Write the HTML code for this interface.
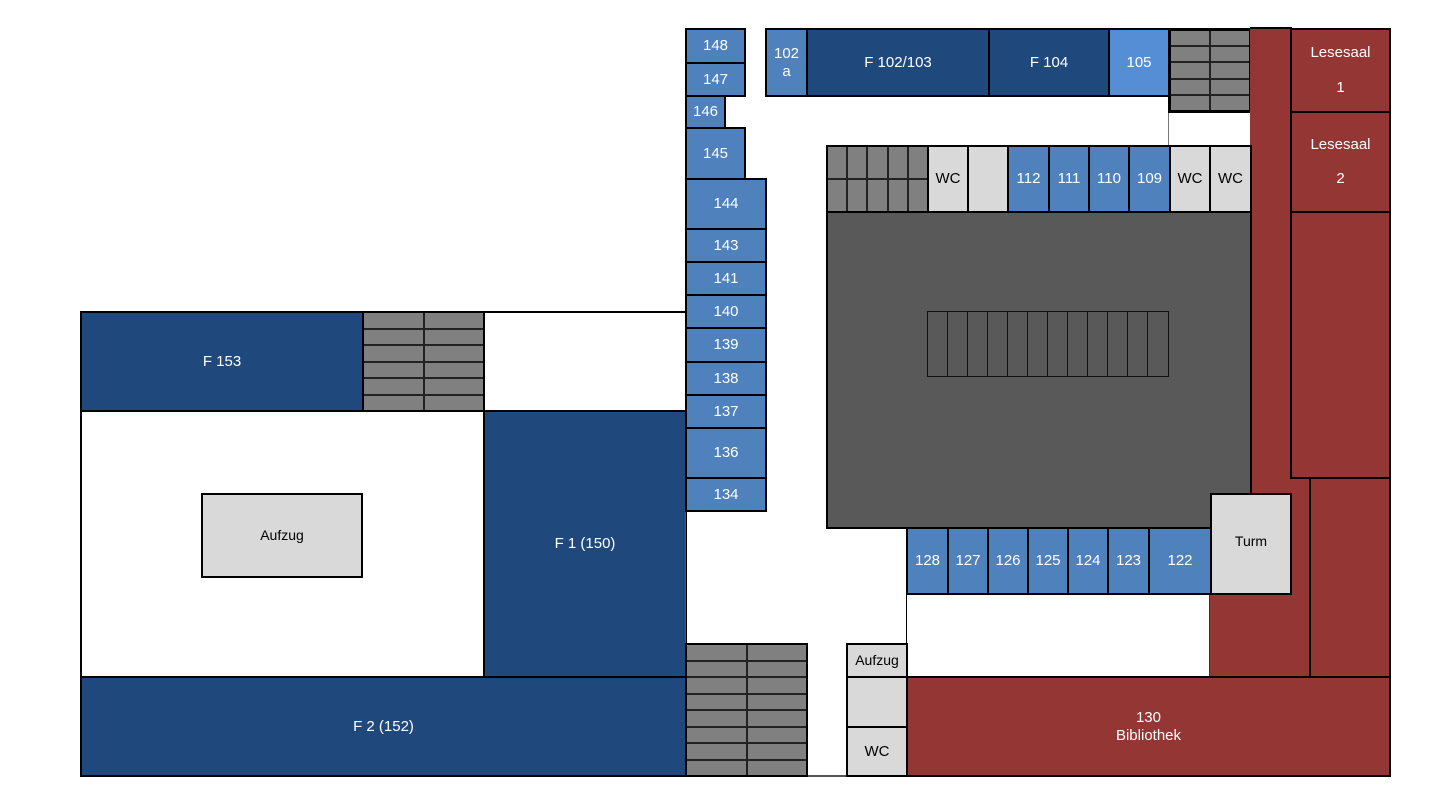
<!DOCTYPE html>
<html><head><meta charset="utf-8"><style>
html,body{margin:0;padding:0;background:#fff;}
body{width:1450px;height:810px;position:relative;overflow:hidden;font-family:"Liberation Sans",Arial,sans-serif;}
.b{position:absolute;box-sizing:border-box;border:2px solid #000;display:flex;align-items:center;justify-content:center;text-align:center;font-size:15px;color:#fff;line-height:1.2;}
.db{background:#1f497d;}
.mb{background:#4f81bd;}
.lb{background:#558ed5;}
.rd{background:#943634;}
.lg{background:#d9d9d9;color:#000;}
.dg{background:#595959;}
.b.st{background:#222;display:grid;gap:2px;padding:0;align-items:stretch;justify-content:stretch;justify-items:stretch;align-content:stretch;}
.st div{background:#808080;}
.n{position:absolute;}
</style></head><body>

<!-- left wing -->
<div class="b" style="left:80px;top:410px;width:405px;height:268px;background:#fff"></div>
<div class="b" style="left:483px;top:311px;width:204px;height:101px;background:#fff"></div>
<div class="b db" style="left:80px;top:311px;width:284px;height:101px">F 153</div>
<div class="b st" style="left:362px;top:311px;width:123px;height:101px;grid-template-columns:1fr 1fr;grid-template-rows:repeat(6,1fr)"><div></div><div></div><div></div><div></div><div></div><div></div><div></div><div></div><div></div><div></div><div></div><div></div></div>
<div class="b lg" style="left:201px;top:493px;width:162px;height:85px;font-size:14px">Aufzug</div>
<div class="b db" style="left:483px;top:410px;width:204px;height:268px">F 1 (150)</div>
<div class="b db" style="left:80px;top:676px;width:607px;height:101px">F 2 (152)</div>

<!-- corridor outline lines -->
<div class="n" style="left:685px;top:28px;width:1px;height:748px;background:#555"></div>
<div class="n" style="left:806px;top:775px;width:42px;height:2px;background:#555"></div>
<div class="n" style="left:1168px;top:111px;width:1px;height:35px;background:#777"></div>
<div class="n" style="left:906px;top:593px;width:1px;height:84px;background:#000"></div>

<!-- left column rooms -->
<div class="b mb" style="left:685px;top:28px;width:61px;height:36px">148</div>
<div class="b mb" style="left:685px;top:62px;width:61px;height:35px">147</div>
<div class="b mb" style="left:685px;top:95px;width:41px;height:34px">146</div>
<div class="b mb" style="left:685px;top:127px;width:61px;height:53px">145</div>
<div class="b mb" style="left:685px;top:178px;width:82px;height:52px">144</div>
<div class="b mb" style="left:685px;top:228px;width:82px;height:35px">143</div>
<div class="b mb" style="left:685px;top:261px;width:82px;height:35px">141</div>
<div class="b mb" style="left:685px;top:294px;width:82px;height:35px">140</div>
<div class="b mb" style="left:685px;top:327px;width:82px;height:36px">139</div>
<div class="b mb" style="left:685px;top:361px;width:82px;height:35px">138</div>
<div class="b mb" style="left:685px;top:394px;width:82px;height:35px">137</div>
<div class="b mb" style="left:685px;top:427px;width:82px;height:52px">136</div>
<div class="b mb" style="left:685px;top:477px;width:82px;height:35px">134</div>

<!-- top row -->
<div class="b mb" style="left:765px;top:28px;width:43px;height:69px">102<br>a</div>
<div class="b db" style="left:806px;top:28px;width:184px;height:69px">F 102/103</div>
<div class="b db" style="left:988px;top:28px;width:122px;height:69px">F 104</div>
<div class="b lb" style="left:1108px;top:28px;width:62px;height:69px">105</div>
<div class="b st" style="left:1168px;top:28px;width:84px;height:85px;grid-template-columns:1fr 1fr;grid-template-rows:repeat(5,1fr);border-width:3px"><div></div><div></div><div></div><div></div><div></div><div></div><div></div><div></div><div></div><div></div></div>

<!-- red area -->
<div class="n rd" style="left:1250px;top:28px;width:60px;height:649px"></div>
<div class="n rd" style="left:1210px;top:493px;width:100px;height:184px"></div>
<div class="n" style="left:1250px;top:27px;width:42px;height:2px;background:#000"></div>
<div class="n" style="left:1209px;top:593px;width:1px;height:84px;background:#333"></div>
<div class="b rd" style="left:1290px;top:28px;width:101px;height:85px;line-height:2.3">Lesesaal<br>1</div>
<div class="b rd" style="left:1290px;top:111px;width:101px;height:102px;line-height:2.3">Lesesaal<br>2</div>
<div class="b rd" style="left:1290px;top:211px;width:101px;height:268px"></div>
<div class="b rd" style="left:1309px;top:477px;width:82px;height:201px"></div>

<!-- central row -->
<div class="b st" style="left:826px;top:145px;width:103px;height:68px;grid-template-columns:repeat(5,1fr);grid-template-rows:1fr 1fr"><div></div><div></div><div></div><div></div><div></div><div></div><div></div><div></div><div></div><div></div></div>
<div class="b lg" style="left:927px;top:145px;width:42px;height:68px">WC</div>
<div class="b lg" style="left:967px;top:145px;width:42px;height:68px"></div>
<div class="b mb" style="left:1007px;top:145px;width:43px;height:68px">112</div>
<div class="b mb" style="left:1048px;top:145px;width:42px;height:68px">111</div>
<div class="b mb" style="left:1088px;top:145px;width:42px;height:68px">110</div>
<div class="b mb" style="left:1128px;top:145px;width:43px;height:68px">109</div>
<div class="b lg" style="left:1169px;top:145px;width:42px;height:68px">WC</div>
<div class="b lg" style="left:1209px;top:145px;width:43px;height:68px">WC</div>

<!-- dark block -->
<div class="b dg" style="left:826px;top:211px;width:426px;height:318px"></div>
<div class="n" style="left:927px;top:311px;width:242px;height:66px;box-sizing:border-box;border:1px solid #111;display:grid;grid-template-columns:repeat(12,1fr);">
<div style="border-right:1px solid #111"></div><div style="border-right:1px solid #111"></div><div style="border-right:1px solid #111"></div><div style="border-right:1px solid #111"></div><div style="border-right:1px solid #111"></div><div style="border-right:1px solid #111"></div><div style="border-right:1px solid #111"></div><div style="border-right:1px solid #111"></div><div style="border-right:1px solid #111"></div><div style="border-right:1px solid #111"></div><div style="border-right:1px solid #111"></div><div></div></div>

<!-- bottom row rooms -->
<div class="b mb" style="left:906px;top:527px;width:43px;height:68px">128</div>
<div class="b mb" style="left:947px;top:527px;width:42px;height:68px">127</div>
<div class="b mb" style="left:987px;top:527px;width:42px;height:68px">126</div>
<div class="b mb" style="left:1027px;top:527px;width:42px;height:68px">125</div>
<div class="b mb" style="left:1067px;top:527px;width:42px;height:68px">124</div>
<div class="b mb" style="left:1107px;top:527px;width:43px;height:68px">123</div>
<div class="b mb" style="left:1148px;top:527px;width:64px;height:68px">122</div>
<div class="b lg" style="left:1210px;top:493px;width:82px;height:102px;font-size:14px;align-items:flex-start;padding-top:38px">Turm</div>

<!-- bottom middle -->
<div class="b st" style="left:685px;top:643px;width:123px;height:134px;grid-template-columns:1fr 1fr;grid-template-rows:repeat(8,1fr)"><div></div><div></div><div></div><div></div><div></div><div></div><div></div><div></div><div></div><div></div><div></div><div></div><div></div><div></div><div></div><div></div></div>
<div class="b lg" style="left:846px;top:643px;width:62px;height:35px;font-size:14px">Aufzug</div>
<div class="b lg" style="left:846px;top:676px;width:62px;height:52px"></div>
<div class="b lg" style="left:846px;top:726px;width:62px;height:51px">WC</div>
<div class="b rd" style="left:906px;top:676px;width:485px;height:101px">130<br>Bibliothek</div>

</body></html>
